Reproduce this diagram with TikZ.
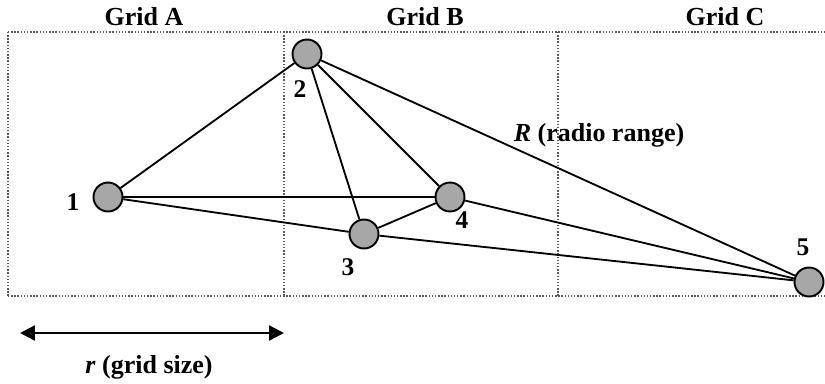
\documentclass[tikz,border=0pt]{standalone}
\usepackage{fontspec}
\setmainfont{Liberation Serif}
\usetikzlibrary{arrows.meta}
\begin{document}
\begin{tikzpicture}[x=0.02cm, y=-0.02cm]
  \tikzstyle{sensor}=[circle, draw, line width=1.1pt, fill=gray!85!black!60, minimum size=0.58cm, inner sep=0pt]
  \tikzstyle{idlabel}=[font=\fontsize{14.5}{17}\selectfont\bfseries]
  \tikzstyle{caption}=[font=\fontsize{14.8}{17}\selectfont\bfseries]
  \tikzstyle{link}=[line width=1.05pt]
  \tikzstyle{cellline}=[densely dotted, gray!70!black, thick]

  \useasboundingbox (0,0) rectangle (825,383);

  % Zellen
  \draw[cellline] (8,32) -- (825,32);
  \draw[cellline] (8,296) -- (825,296);
  \foreach \x in {8, 284, 558}
    \draw[cellline] (\x,32) -- (\x,296);

  \node[caption] (gA) at (144,17) {Grid A};
  \node[caption] (gB) at (425,17) {Grid B};
  \node[caption] (gC) at (725,17) {Grid C};

  % Knoten
  \node[sensor] (n1) at (108,197) {};
  \node[sensor] (n2) at (307,54) {};
  \node[sensor] (n3) at (364,234) {};
  \node[sensor] (n4) at (450,197) {};
  \node[sensor] (n5) at (809,282) {};

  \node[idlabel] (l1) at (73,202) {1};
  \node[idlabel] (l2) at (300,89) {2};
  \node[idlabel] (l3) at (348,267) {3};
  \node[idlabel] (l4) at (462,220) {4};
  \node[idlabel] (l5) at (803,247) {5};

  % Verbindungen
  \foreach \a/\b in {n1/n2, n1/n4, n1/n3, n2/n3, n2/n4, n2/n5, n3/n4, n3/n5, n4/n5}
    \draw[link] (\a) -- (\b);

  \node[caption] (range) at (599,135) {\textit{R} (radio range)};

  % Zellgroesse
  \coordinate (sL) at (20,333);
  \coordinate (sR) at (284,333);
  \draw[line width=1.4pt, {Triangle[length=0.3cm, width=0.3cm]}-{Triangle[length=0.3cm, width=0.3cm]}] (sL) -- (sR);
  \node[caption] (size) at (149,367) {\textit{r} (grid size)};
\end{tikzpicture}
\end{document}
